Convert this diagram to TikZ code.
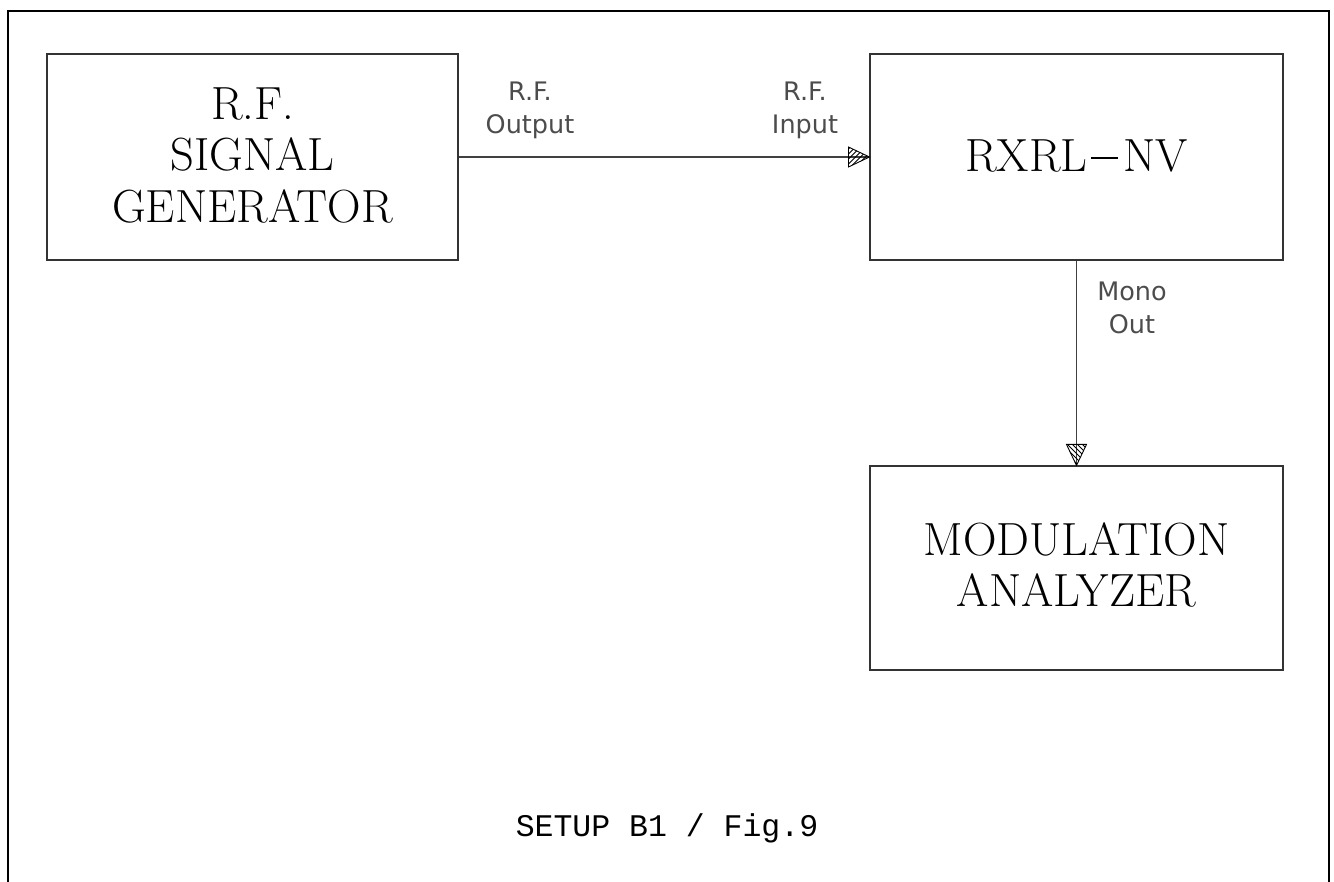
\documentclass[tikz,border=0pt]{standalone}
\usepackage{fontspec}
\newfontfamily\lblfont{DejaVu Sans}
\newfontfamily\capfont{Liberation Mono}
\newcommand{\longdash}{\kern4pt\rule[12.5pt]{27pt}{1.6pt}\kern5pt}
\begin{document}
\begin{tikzpicture}[x=1pt,y=-1pt,
  blockbox/.style={draw,line width=1.1pt,draw=black!80,minimum width=#1,inner sep=0pt},
  bigtext/.style={font=\fontsize{46.5}{51.5}\selectfont,align=center},
  lbltext/.style={font=\lblfont\fontsize{25.5}{33}\selectfont,align=center,text=black!70},
  conn/.style={line width=1.1pt,draw=black!75}]
\useasboundingbox (0,0) rectangle (1334,882);
\draw[line width=2.6pt] (8,882) -- (8,11) -- (1329,11) -- (1329,882);
\node[blockbox=411pt,minimum height=206pt] (gen) at (252.5,157) {};
\node[blockbox=413pt,minimum height=206pt] (rx) at (1076.5,157) {};
\node[blockbox=413pt,minimum height=204pt] (mod) at (1076.5,568) {};
\node[bigtext] at ([yshift=2pt]gen.center) {R.F.\\SIGNAL\\GENERATOR};
\node[bigtext] at ([yshift=1pt]rx.center) {RXRL\longdash NV};
\node[bigtext] at ([yshift=3pt]mod.center) {MODULATION\\ANALYZER};
% connectors
\coordinate (t1) at (rx.west);
\coordinate (t2) at (mod.north -| rx.south);
\draw[conn] (gen.east) -- (t1);
\draw[conn] (rx.south) -- (t2);
% hatched arrowheads
\begin{scope}
  \path[clip] (t1) -- ++(-21,-10) -- ++(0,20) -- cycle;
  \foreach \i in {-40,-35,...,15} \draw[line width=0.8pt] ([xshift=\i pt]t1) ++(0,11) -- ++(22,-22);
\end{scope}
\draw[line width=0.9pt] (t1) -- ++(-21,-10) -- ++(0,20) -- cycle;
\begin{scope}
  \path[clip] (t2) -- ++(-10,-21) -- ++(20,0) -- cycle;
  \foreach \i in {-35,-30,...,35} \draw[line width=0.8pt] ([xshift=\i pt]t2) ++(-12,-24) -- ++(26,26);
\end{scope}
\draw[line width=0.9pt] (t2) -- ++(-10,-21) -- ++(20,0) -- cycle;
% labels
\node[lbltext] (l1) at (530,110) {R.F.\\Output};
\node[lbltext] (l2) at (805,110) {R.F.\\Input};
\node[lbltext] (l3) at (1132,308) {Mono\\Out};
\node[font=\capfont\fontsize{31.5}{34}\selectfont] (cap) at (667,828) {SETUP B1 / Fig.9};
\end{tikzpicture}
\end{document}
